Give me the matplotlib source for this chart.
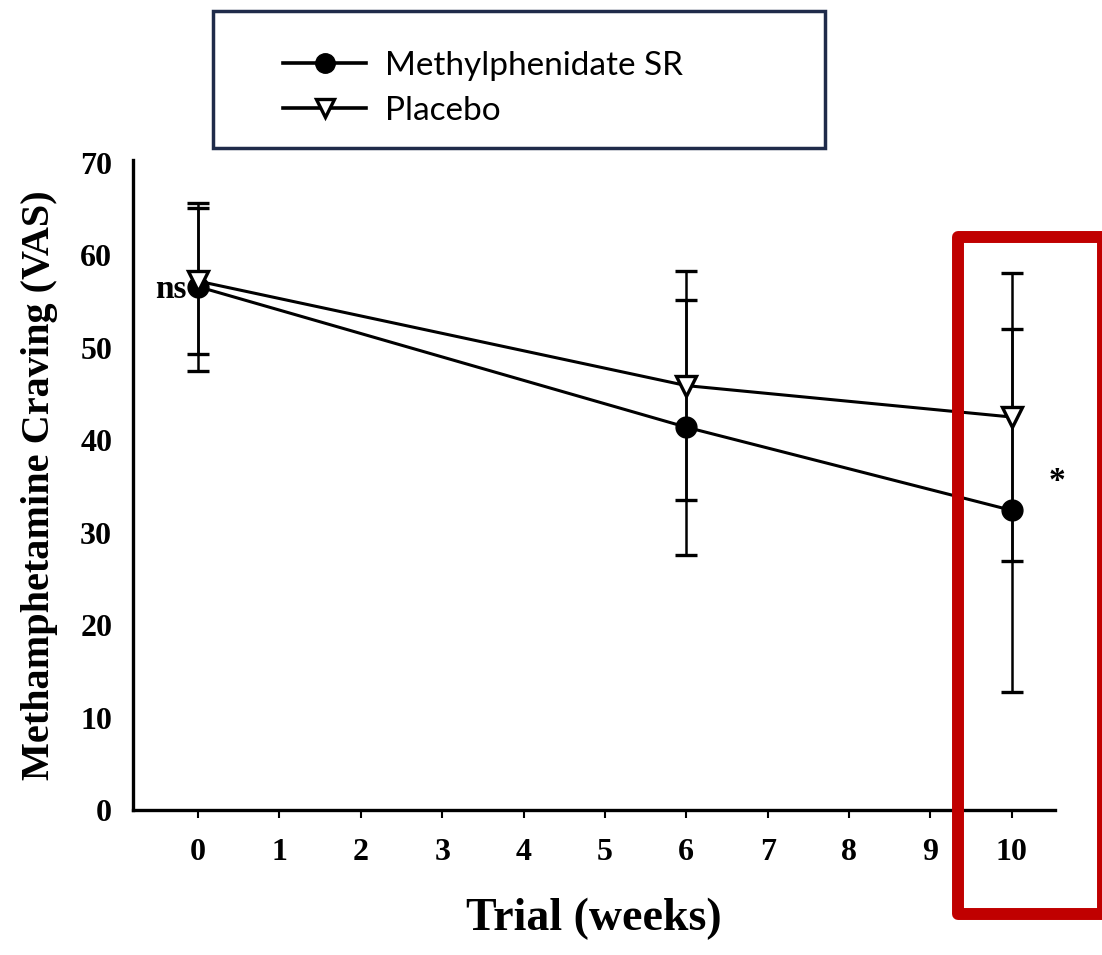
import matplotlib.pyplot as plt
import matplotlib.patches as mpatches
from matplotlib.lines import Line2D

# data
weeks = [0, 6, 10]
mph_mean = [56.6, 41.4, 32.4]
mph_err = [9.1, 13.8, 19.6]
pbo_mean = [57.2, 45.9, 42.5]
pbo_err = [7.9, 12.4, 15.6]
series_names = ["Methylphenidate SR", "Placebo"]
x_ticks = list(range(0, 11))
y_ticks = list(range(0, 71, 10))

serif = ["Liberation Serif", "DejaVu Serif"]

fig = plt.figure(figsize=(11.02, 9.55), dpi=100)
ax = fig.add_axes([133 / 1102, 1 - 810 / 955, (1055 - 133) / 1102, (810 - 160) / 955])

ax.errorbar(weeks, mph_mean, yerr=mph_err, color="black", lw=2.2, elinewidth=1.8,
            capsize=8, capthick=2.4, marker="o", markersize=15,
            markerfacecolor="black", markeredgecolor="black", zorder=3)
ax.errorbar(weeks, pbo_mean, yerr=pbo_err, color="black", lw=2.2, elinewidth=1.8,
            capsize=8, capthick=2.4, marker="v", markersize=14,
            markerfacecolor="white", markeredgecolor="black", markeredgewidth=2.4, zorder=4)

ax.set_xlim(-0.8, 10.53)
ax.set_ylim(0, 70.3)
ax.set_xticks(x_ticks)
ax.set_yticks(y_ticks)
for sp in ["top", "right"]:
    ax.spines[sp].set_visible(False)
for sp in ["left", "bottom"]:
    ax.spines[sp].set_linewidth(2.4)
ax.tick_params(axis="x", direction="out", length=6, width=1.5, pad=14)
ax.tick_params(axis="y", length=0, pad=15)
for lab in ax.get_xticklabels() + ax.get_yticklabels():
    lab.set_fontfamily(serif)
    lab.set_fontweight("bold")
    lab.set_fontsize(23)

ax.set_xlabel("Trial (weeks)", family=serif, fontweight="bold", fontsize=33, labelpad=22)
ax.set_ylabel("Methamphetamine Craving (VAS)", family=serif, fontweight="bold",
              fontsize=29, labelpad=16)

ax.text(-0.14, 56.3, "ns", family=serif, fontweight="bold", fontsize=24,
        ha="right", va="center")
ax.text(10.56, 35.5, "*", family=serif, fontweight="bold", fontsize=24,
        ha="center", va="center", clip_on=False)

# legend
handles = [
    Line2D([], [], color="black", lw=2.6, marker="o", markersize=14,
           markerfacecolor="black"),
    Line2D([], [], color="black", lw=2.6, marker="v", markersize=13,
           markerfacecolor="white", markeredgewidth=2.4),
]
leg = fig.legend(handles, series_names, loc="upper left",
                 bbox_to_anchor=(283 / 1102, 1 - 51 / 955), frameon=False,
                 prop={"family": "Lato", "size": 24}, handlelength=2.5,
                 handletextpad=0.55, labelspacing=0.45, borderpad=0, borderaxespad=0)

fig.patches.append(mpatches.Rectangle((213 / 1102, 1 - 148 / 955), (825 - 213) / 1102,
                                      (148 - 11) / 955, transform=fig.transFigure,
                                      fill=False, edgecolor="#1f2b4a", lw=2.5))

# red highlight box around week 10 (runs off the right edge)
fig.patches.append(mpatches.Rectangle((957.5 / 1102, 1 - 914 / 955), (1103 - 957.5) / 1102,
                                      (914 - 237.5) / 955, transform=fig.transFigure,
                                      fill=False, edgecolor="#c00000", lw=8.6,
                                      joinstyle="round"))

fig.savefig("out.png", dpi=100)
